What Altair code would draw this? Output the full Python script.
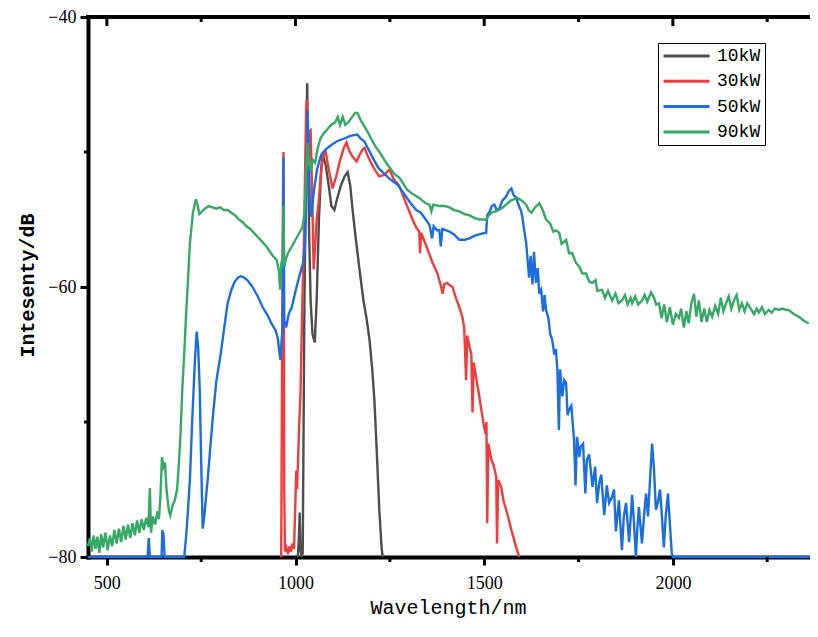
import altair as alt
import pandas as pd

# ---- data (wavelength nm, intensity dB) ----
series_names = ["10kW", "30kW", "50kW", "90kW"]
series_colors = ["#4d4d4d", "#f03c3c", "#1c6ddd", "#37a865"]

kw10 = [(1006,-80),(1009,-78.5),(1011,-76.7),(1013,-79.5),(1016,-80),(1019,-79.7),(1021,-72),
        (1023,-63),(1026,-55),(1029,-48),(1031,-44.9),(1033,-50),(1036,-56),(1040,-61),(1045,-63.5),
        (1051,-64.1),(1056,-61),(1062,-55),(1068,-51.2),(1072,-50.2),(1080,-51.0),(1088,-52.5),
        (1095,-54.0),(1103,-54.3),(1110,-53.5),(1120,-52.5),(1130,-51.8),(1138,-51.5),(1145,-52.5),
        (1152,-54.5),(1160,-56.5),(1170,-58.8),(1180,-61.0),(1188,-62.3),(1196,-63.9),(1203,-66.0),
        (1209,-68.4),(1213,-70.8),(1217,-73.3),(1222,-76.5),(1228,-79.3),(1231,-80)]

kw30 = [(962,-80),(965,-62),(967,-52),(968,-50.0),(969,-58),(970,-75),(972,-79.6),(976,-79.3),
        (980,-79.8),(984,-79.2),(988,-79.6),(992,-79.0),(996,-79.4),(999,-76.5),(1002,-73.6),
        (1004,-75.0),(1007,-72.5),(1010,-70.0),(1013,-68.0),(1016,-64.0),(1019,-60.0),(1022,-57.0),
        (1025,-52.0),(1028,-47.0),(1030,-46.1),(1033,-50.0),(1037,-48.5),(1040,-48.4),(1044,-53.0),
        (1048,-58.7),(1052,-57.0),(1056,-55.0),(1061,-53.8),(1066,-52.0),(1072,-50.4),(1080,-50.0),
        (1088,-51.3),(1098,-52.7),(1108,-51.8),(1118,-50.6),(1128,-49.7),(1135,-49.3),(1142,-49.9),
        (1150,-50.3),(1162,-50.7),(1170,-50.2),(1178,-49.8),(1183,-49.7),(1190,-50.2),(1200,-50.8),
        (1210,-51.3),(1222,-51.8),(1235,-51.7),(1249,-51.3),(1260,-52.0),(1275,-52.5),(1290,-53.6),
        (1310,-55.0),(1320,-55.6),(1328,-55.9),(1330,-57.5),(1333,-56.0),(1347,-57.0),(1363,-58.2),
        (1376,-59.0),(1386,-60.0),(1390,-60.5),(1394,-59.8),(1402,-59.7),(1410,-59.9),(1416,-60.0),
        (1425,-60.8),(1434,-61.5),(1442,-62.2),(1447,-63.0),(1452,-66.9),(1455,-63.6),(1461,-64.4),
        (1466,-65.0),(1469,-69.3),(1472,-65.6),(1478,-66.6),(1487,-68.1),(1494,-69.4),(1500,-70.4),
        (1504,-70.9),(1506,-70.0),(1508,-77.5),(1511,-71.6),(1519,-72.8),(1525,-73.2),(1532,-74.1),
        (1534,-79.0),(1537,-74.3),(1545,-74.8),(1551,-75.8),(1558,-76.5),(1565,-77.2),(1572,-78.0),
        (1578,-78.6),(1585,-79.3),(1593,-80)]

kw50 = [(450,-80),(608,-80),(611,-78.6),(614,-80),(645,-80),(647,-78.0),(650,-78.3),(653,-80),
        (705,-80),(710,-78.5),(715,-76.5),(720,-74.3),(726,-70.0),(733,-65.6),(738,-63.3),(742,-64.5),
        (746,-67.5),(750,-73.0),(754,-77.9),(758,-77.0),(767,-74.3),(780,-69.9),(790,-67.0),(802,-64.9),
        (812,-62.8),(820,-61.2),(830,-60.2),(839,-59.6),(848,-59.3),(855,-59.2),(864,-59.3),(873,-59.5),
        (886,-60.0),(900,-60.7),(913,-61.5),(926,-62.1),(936,-62.7),(947,-63.2),(953,-63.8),(958,-65.0),
        (960,-65.4),(963,-64.0),(966,-63.0),(968,-50.4),(970,-62.5),(975,-63.0),(982,-62.0),(990,-61.5),
        (1000,-60.3),(1010,-59.2),(1020,-58.2),(1025,-57.0),(1029,-52.0),(1032,-46.9),(1035,-50.0),
        (1038,-53.8),(1042,-54.8),(1048,-53.0),(1057,-51.3),(1068,-50.2),(1080,-49.8),(1094,-49.5),
        (1110,-49.2),(1129,-49.0),(1145,-48.8),(1164,-48.7),(1172,-49.0),(1182,-49.2),(1195,-49.9),
        (1208,-50.6),(1220,-51.2),(1235,-51.6),(1250,-52.0),(1270,-52.4),(1285,-53.0),(1305,-53.8),
        (1320,-54.3),(1332,-54.5),(1345,-55.0),(1355,-55.4),(1362,-56.4),(1366,-55.5),(1375,-55.8),
        (1381,-55.8),(1385,-57.0),(1389,-55.7),(1400,-55.8),(1408,-55.9),(1420,-56.1),(1434,-56.5),
        (1448,-56.5),(1461,-56.4),(1475,-56.2),(1487,-56.1),(1500,-56.0),(1505,-56.0),(1508,-54.7),
        (1515,-54.4),(1520,-54.0),(1527,-53.9),(1533,-54.3),(1540,-54.2),(1548,-53.6),(1558,-53.3),
        (1565,-52.9),(1572,-52.7),(1578,-53.2),(1585,-53.4),(1592,-54.0),(1597,-54.3),(1601,-54.8),
        (1606,-55.8),(1611,-56.7),(1615,-58.0),(1619,-59.3),(1623,-57.7),(1628,-59.8),(1632,-57.4),
        (1637,-59.7),(1642,-58.6),(1646,-60.5),(1651,-60.2),(1656,-61.8),(1660,-60.6),(1664,-61.7),
        (1670,-62.3),(1675,-63.5),(1680,-63.9),(1686,-65.0),(1690,-64.6),(1694,-66.2),(1698,-70.6),
        (1701,-66.1),(1707,-68.1),(1712,-66.9),(1717,-67.1),(1721,-69.5),(1725,-69.1),(1731,-68.8),
        (1738,-71.3),(1742,-74.7),(1746,-71.1),(1752,-72.6),(1756,-71.8),(1762,-71.6),(1768,-75.3),
        (1772,-72.8),(1778,-72.4),(1787,-74.8),(1794,-73.3),(1799,-76.0),(1805,-74.5),(1810,-73.9),
        (1818,-76.9),(1825,-74.7),(1831,-76.0),(1838,-75.6),(1844,-75.0),(1849,-78.1),(1857,-75.8),
        (1865,-79.5),(1870,-77.0),(1876,-76.0),(1884,-78.9),(1892,-75.4),(1897,-77.5),(1902,-80.0),
        (1906,-77.8),(1910,-76.3),(1918,-79.0),(1924,-76.8),(1929,-75.3),(1934,-77.0),(1940,-74.0),
        (1945,-71.6),(1950,-73.5),(1955,-76.5),(1960,-76.0),(1966,-75.0),(1971,-77.0),(1976,-79.3),
        (1981,-77.0),(1987,-75.3),(1992,-77.5),(1997,-79.7),(2000,-80.0),(2363,-80.0)]

kw90 = [(450,-79.2),(455,-78.6),(460,-79.6),(465,-78.4),(470,-79.4),(475,-78.5),(480,-79.7),(485,-78.3),
        (490,-79.3),(496,-78.2),(502,-79.5),(508,-78.4),(514,-79.2),(520,-78.0),(526,-79.0),(532,-77.9),
        (538,-78.9),(544,-77.7),(550,-78.7),(556,-77.6),(562,-78.6),(568,-77.5),(574,-78.4),(580,-77.3),
        (586,-78.2),(592,-77.2),(598,-78.0),(604,-77.1),(610,-77.8),(614,-74.9),(617,-78.2),(622,-77.0),
        (628,-77.6),(634,-76.6),(638,-77.2),(642,-75.5),(646,-72.6),(650,-73.3),(654,-73.0),(658,-75.0),
        (664,-76.5),(668,-76.9),(674,-76.2),(680,-75.8),(686,-75.0),(690,-73.5),(695,-71.0),(700,-67.5),
        (706,-64.4),(710,-62.0),(715,-59.5),(720,-56.8),(728,-54.5),(736,-53.5),(740,-53.9),(745,-54.6),
        (752,-54.4),(760,-54.2),(770,-54.0),(780,-54.1),(790,-54.2),(800,-54.1),(810,-54.3),(820,-54.3),
        (830,-54.5),(840,-54.7),(850,-55.0),(860,-55.2),(870,-55.5),(880,-55.7),(890,-56.0),(900,-56.3),
        (910,-56.6),(920,-56.9),(930,-57.3),(940,-57.7),(950,-58.0),(956,-58.8),(959,-60.2),(962,-58.3),
        (966,-57.8),(968,-54.0),(970,-58.5),(975,-57.9),(980,-57.5),(990,-57.0),(1000,-56.5),(1010,-56.0),
        (1018,-55.6),(1024,-54.5),(1028,-51.5),(1032,-49.3),(1036,-51.0),(1040,-51.3),(1046,-50.6),
        (1052,-50.8),(1058,-49.8),(1066,-49.0),(1075,-48.6),(1085,-48.3),(1094,-48.0),(1105,-47.8),
        (1112,-47.4),(1118,-48.0),(1125,-47.4),(1132,-48.0),(1140,-47.8),(1150,-47.4),(1158,-47.1),
        (1164,-47.1),(1172,-47.6),(1180,-48.0),(1189,-48.4),(1200,-49.0),(1212,-49.6),(1225,-50.1),
        (1240,-50.8),(1261,-51.6),(1275,-51.9),(1296,-52.8),(1310,-53.1),(1328,-53.4),(1345,-53.8),
        (1355,-53.9),(1360,-54.4),(1365,-53.9),(1381,-54.0),(1395,-54.0),(1408,-54.1),(1420,-54.3),
        (1434,-54.4),(1448,-54.6),(1461,-54.7),(1475,-54.9),(1487,-55.0),(1500,-55.0),(1505,-55.0),
        (1512,-54.7),(1519,-54.5),(1530,-54.4),(1540,-54.3),(1550,-54.1),(1558,-53.9),(1570,-53.6),
        (1580,-53.5),(1588,-53.4),(1600,-53.6),(1611,-53.9),(1618,-54.3),(1625,-54.5),(1635,-54.1),
        (1646,-53.8),(1655,-54.3),(1664,-55.0),(1675,-55.3),(1683,-55.9),(1691,-55.8),(1699,-56.0),
        (1705,-56.8),(1717,-56.5),(1725,-57.5),(1733,-57.5),(1743,-58.2),(1752,-58.5),(1760,-59.0),
        (1770,-59.0),(1778,-59.6),(1786,-59.7),(1795,-59.5),(1800,-60.3),(1812,-60.2),(1820,-60.8),
        (1828,-60.3),(1839,-61.0),(1848,-60.5),(1856,-61.2),(1865,-61.0),(1873,-60.6),(1880,-61.3),
        (1888,-60.8),(1892,-61.2),(1900,-60.7),(1908,-61.3),(1918,-61.0),(1925,-60.6),(1932,-61.1),
        (1942,-60.4),(1950,-60.8),(1956,-61.3),(1963,-61.2),(1970,-62.3),(1977,-61.3),(1984,-62.6),
        (1992,-61.5),(2000,-62.8),(2008,-62.0),(2016,-62.3),(2022,-61.6),(2029,-63.0),(2036,-61.8),
        (2042,-62.7),(2049,-61.2),(2056,-60.5),(2062,-62.2),(2069,-61.0),(2076,-62.6),(2083,-61.6),
        (2090,-62.6),(2097,-61.7),(2104,-62.2),(2112,-61.4),(2120,-62.0),(2127,-60.8),(2134,-61.8),
        (2141,-61.2),(2148,-60.7),(2155,-61.6),(2162,-61.0),(2169,-60.6),(2176,-61.7),(2183,-61.2),
        (2190,-61.8),(2197,-61.2),(2206,-61.6),(2215,-62.0),(2222,-61.6),(2228,-61.9),(2236,-61.5),
        (2244,-62.0),(2254,-61.7),(2262,-61.9),(2270,-61.6),(2281,-61.7),(2290,-61.6),(2300,-61.7),
        (2307,-61.7),(2320,-62.0),(2334,-62.2),(2347,-62.5),(2360,-62.7)]

x_major = [500, 1000, 1500, 2000]
x_minor = [750, 1250, 1750, 2250]
y_major = [-80, -60, -40]
y_minor = [-70, -50]

# ---- build table ----
rows = []
for name, pts in zip(series_names, [kw10, kw30, kw50, kw90]):
    for wl, db in pts:
        rows.append({"series": name, "wl": wl, "db": db})
df = pd.DataFrame(rows)

W, H = 722, 540
xs = alt.Scale(domain=[450, 2363.4], nice=False, zero=False)
ys = alt.Scale(domain=[-80, -40], nice=False, zero=False)
cs = alt.Scale(domain=series_names, range=series_colors)

x_axis = alt.Axis(values=x_major, format="d", tickSize=8, tickWidth=3, tickColor="black",
                  domainWidth=4, domainColor="black", domainCap="square", grid=False,
                  labelFont="Liberation Serif", labelFontSize=18, labelColor="black",
                  labelPadding=9, labelFlush=False,
                  title="Wavelength/nm", titleFont="Liberation Mono", titleFontSize=20,
                  titleFontWeight="normal", titleColor="black",
                  titleX=360, titleY=50, titleAlign="center", titleBaseline="middle")
y_axis = alt.Axis(values=y_major, tickSize=8, tickWidth=3, tickColor="black",
                  domainWidth=4, domainColor="black", domainCap="square", grid=False,
                  labelFont="Liberation Serif", labelFontSize=18, labelColor="black",
                  labelPadding=4, labelFlush=False,
                  title="Intesenty/dB", titleFont="Liberation Mono", titleFontSize=20,
                  titleFontWeight="bold", titleColor="black", titleAngle=270,
                  titleX=-61, titleY=268, titleAlign="center", titleBaseline="middle")

legend = alt.Legend(orient="none", legendX=570, legendY=26, title=None,
                    symbolType="stroke", symbolSize=2116, symbolStrokeWidth=3,
                    clipHeight=18, rowPadding=7.3, labelFont="Liberation Mono",
                    labelFontSize=18, labelColor="black", labelOffset=6,
                    strokeColor="black", fillColor="white", padding=4)

line_layers = []
for name in series_names:
    line_layers.append(
        alt.Chart(df).transform_filter(alt.datum.series == name)
        .mark_line(strokeWidth=2.4, interpolate="linear")
        .encode(x=alt.X("wl:Q", scale=xs, axis=x_axis),
                y=alt.Y("db:Q", scale=ys, axis=y_axis),
                color=alt.Color("series:N", scale=cs, legend=legend))
    )

def xticks(vals, y0, y1):
    return alt.Chart(pd.DataFrame({"v": vals})).mark_rule(color="black", strokeWidth=3).encode(
        x=alt.X("v:Q", scale=xs, axis=x_axis), y=alt.value(y0), y2=alt.value(y1))

def yticks(vals, x0, x1):
    return alt.Chart(pd.DataFrame({"v": vals})).mark_rule(color="black", strokeWidth=3).encode(
        y=alt.Y("v:Q", scale=ys, axis=y_axis), x=alt.value(x0), x2=alt.value(x1))

top_border = alt.Chart(pd.DataFrame({"v": [0]})).mark_rule(
    color="black", strokeWidth=4, strokeCap="square").encode(
    x=alt.value(0), x2=alt.value(W), y=alt.value(0))

chart = alt.layer(
    *line_layers,
    top_border,
    xticks(x_major, 0, 9), xticks(x_minor, 0, 5), xticks(x_minor, H, H + 5),
    yticks(y_minor, -4, 0),
).properties(
    width=W, height=H,
    autosize=alt.AutoSizeParams(type="none"),
    padding={"left": 80, "top": 9, "right": 0, "bottom": 67},
    background="white",
).configure_view(stroke="transparent")

chart.save("out.html", embed_options={"renderer": "svg", "actions": False})
